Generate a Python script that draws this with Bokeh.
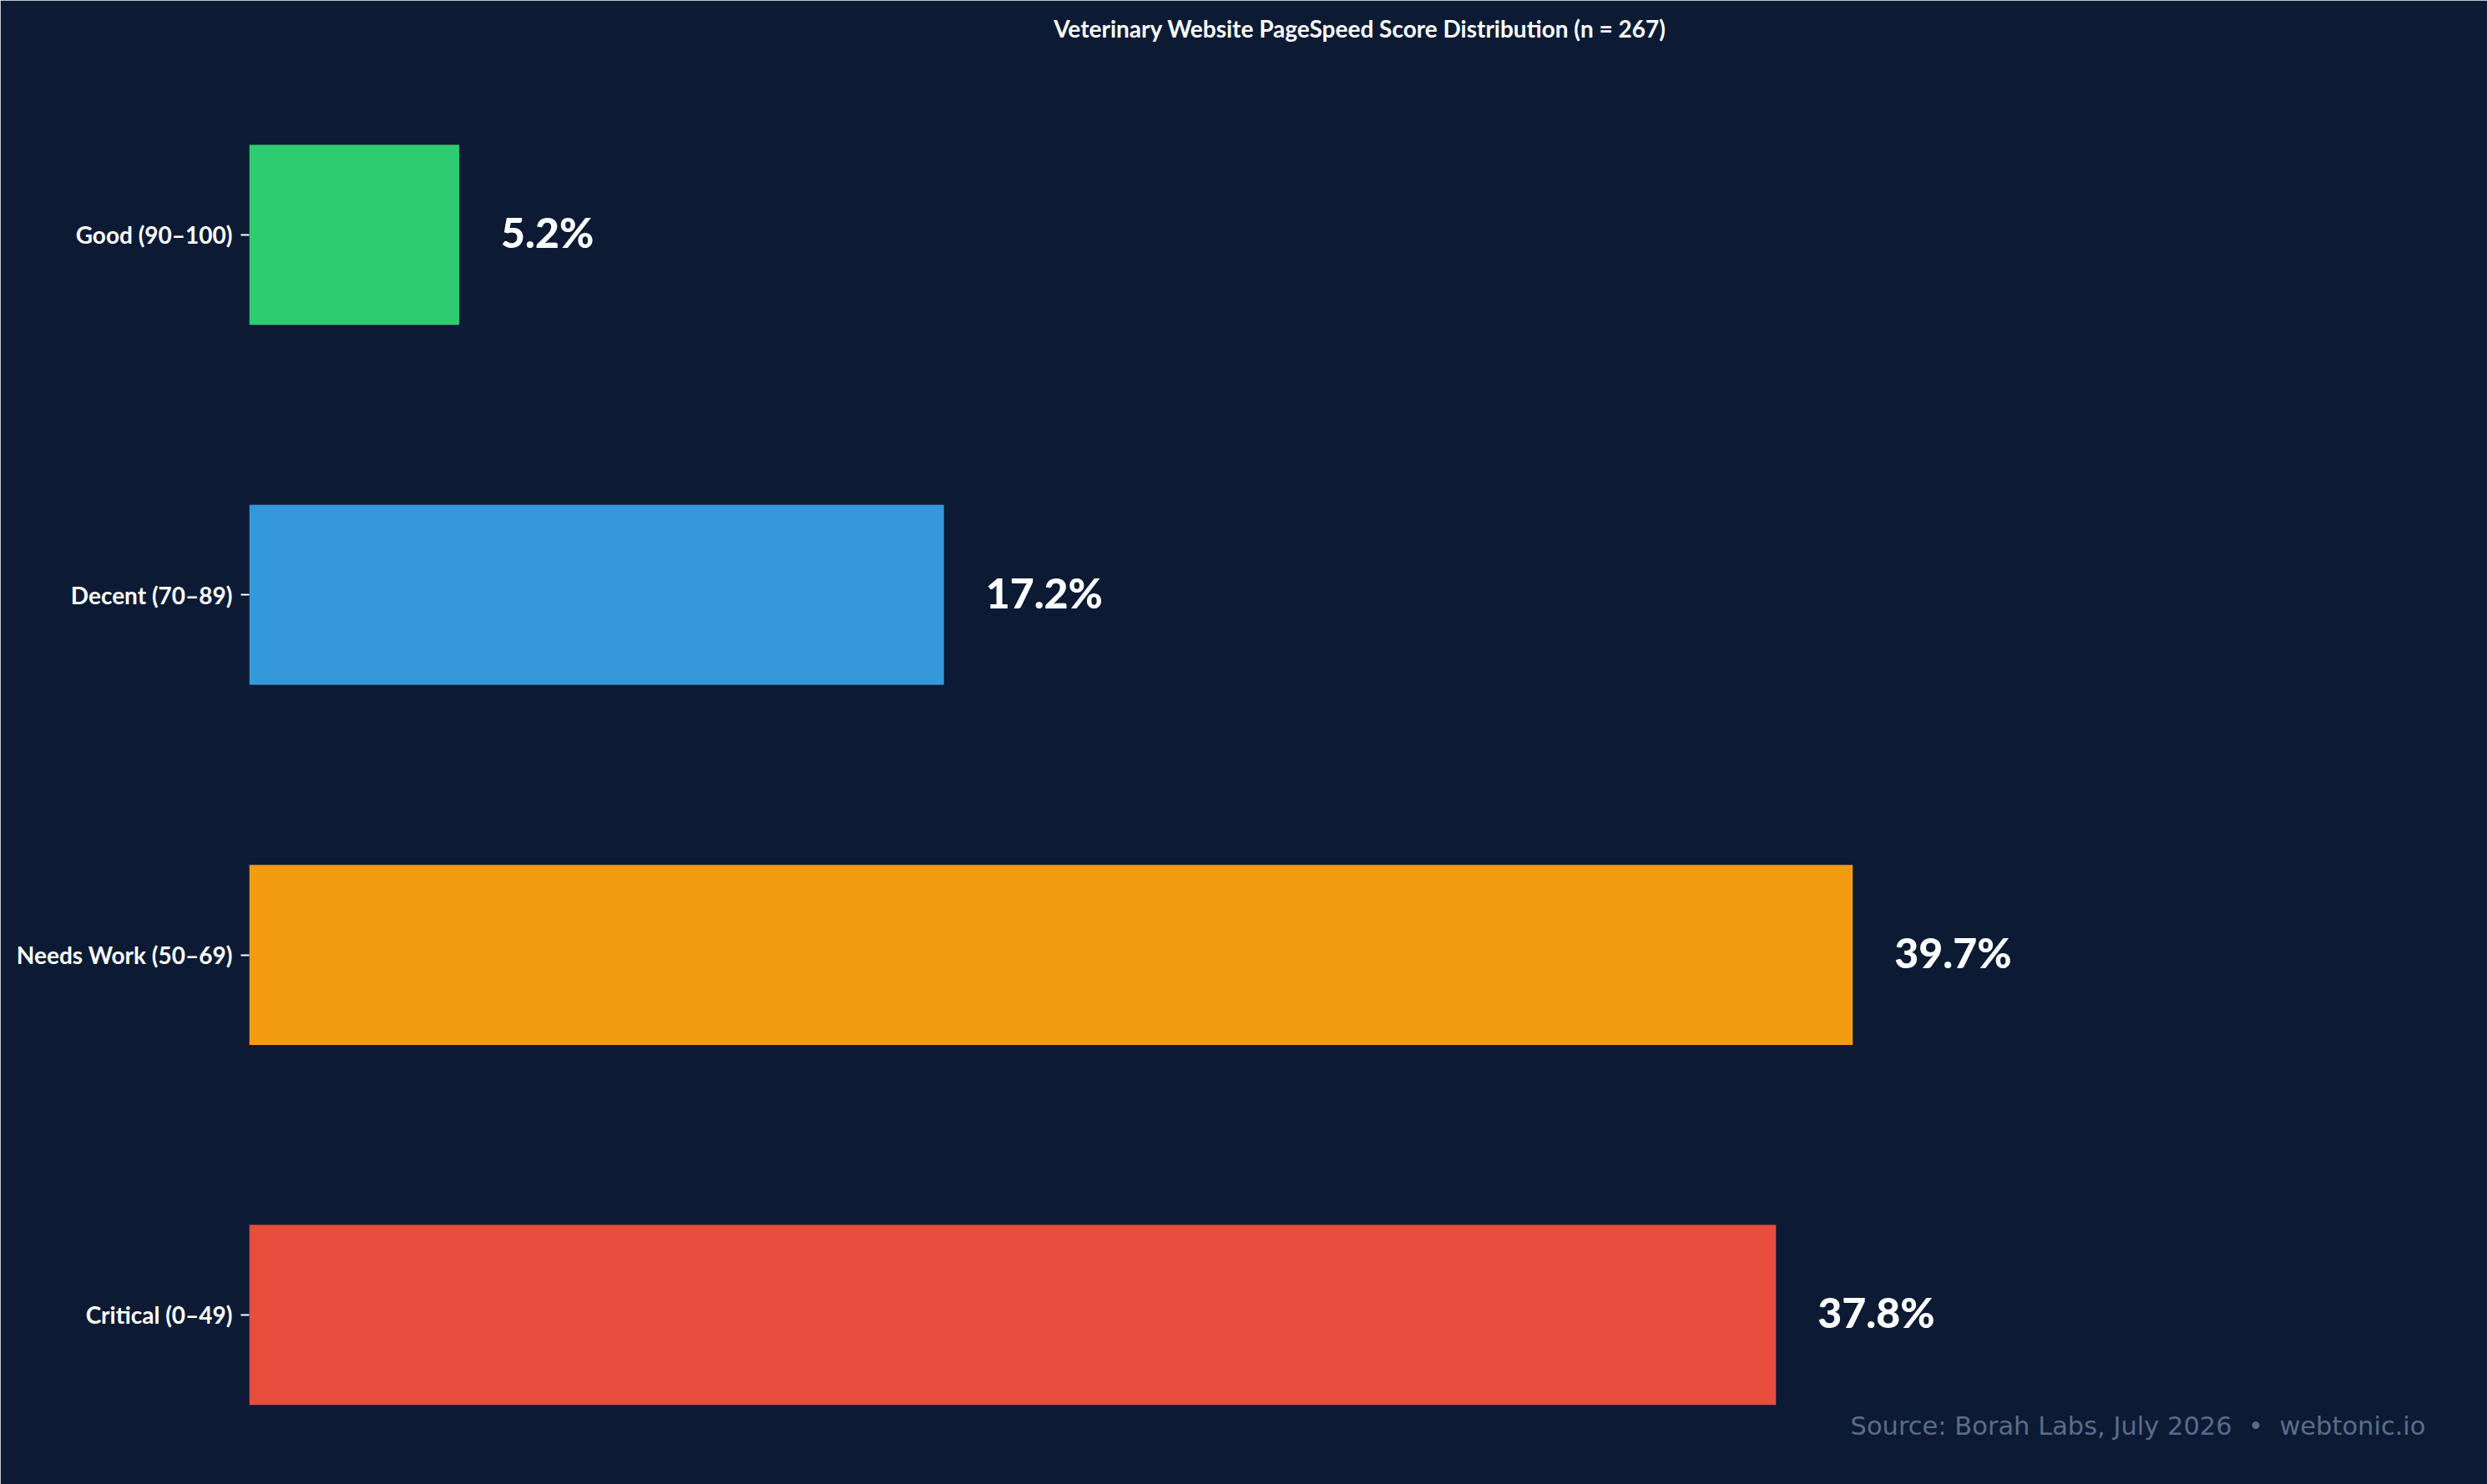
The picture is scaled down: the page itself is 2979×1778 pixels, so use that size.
from bokeh.plotting import figure
from bokeh.models import ColumnDataSource, FixedTicker, Range1d, Label
from bokeh.core.properties import value
from bokeh.embed import file_html
from bokeh.resources import INLINE

# ---- data ----
categories = ["Good (90–100)", "Decent (70–89)", "Needs Work (50–69)", "Critical (0–49)"]
percentages = [5.2, 17.2, 39.7, 37.8]
bar_colors = ["#2ecc71", "#3498db", "#f39c12", "#e74c3c"]
title_text = "Veterinary Website PageSpeed Score Distribution (n = 267)"
source_text = "Source: Borah Labs, July 2026 \u00a0•\u00a0 webtonic.io"

BG = "#0c1b33"

# categories listed top to bottom -> positions from top
n = len(categories)
ypos = [n - 1 - i for i in range(n)]
labels = [f"{v:.1f}%" for v in percentages]

src = ColumnDataSource(dict(y=ypos, v=percentages, c=bar_colors, lab=labels))

p = figure(width=2979, height=1778, output_backend="svg", toolbar_location=None,
           x_range=Range1d(0, 55), y_range=Range1d(-0.45, 3.512),
           min_border_left=298, min_border_right=20, min_border_top=60, min_border_bottom=9,
           background_fill_color=BG, border_fill_color=BG)
p.outline_line_color = BG
p.outline_line_width = 2

p.hbar(y="y", left=0, right="v", height=0.5, fill_color="c", line_color=None, source=src)
p.text(x="v", y="y", text="lab", source=src, x_offset=50, y_offset=-3,
       text_align="left", text_baseline="middle",
       text_font=value("Lato Black, Lato"), text_font_style="bold", text_font_size="50px",
       text_color="white")

p.title.text = title_text
p.title.align = "center"
p.title.text_font = "Lato"
p.title.text_font_style = "bold"
p.title.text_font_size = "28px"
p.title.text_color = "white"
p.title.standoff = 19

p.xaxis.visible = False
p.grid.visible = False

ya = p.yaxis[0]
ya.ticker = FixedTicker(ticks=ypos)
ya.major_label_overrides = {y: c for y, c in zip(ypos, categories)}
ya.axis_line_color = None
ya.minor_tick_line_color = None
ya.major_tick_in = 0
ya.major_tick_out = 10
ya.major_tick_line_color = "white"
ya.major_tick_line_width = 2
ya.major_label_standoff = 10
ya.major_label_text_font = "Lato"
ya.major_label_text_font_style = "bold"
ya.major_label_text_font_size = "28px"
ya.major_label_text_color = "white"

p.add_layout(Label(x=2607, y=61, x_units="screen", y_units="screen", text=source_text,
                   text_align="right", text_baseline="middle",
                   text_font="DejaVu Sans", text_font_size="30.5px", text_color="#5b6b8c"))

html = file_html(p, INLINE)
html = html.replace("<body>", '<body style="margin:0;background:%s">' % BG, 1)
open("out.html", "w").write(html)
